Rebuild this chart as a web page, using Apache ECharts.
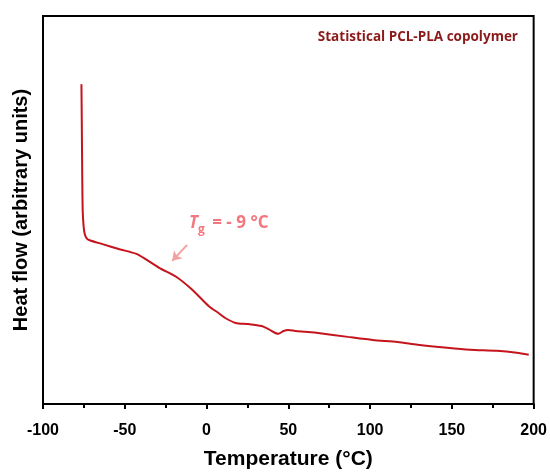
<!DOCTYPE html>
<html>
<head>
<meta charset="utf-8">
<script src="https://cdn.jsdelivr.net/npm/echarts@6/dist/echarts.min.js"></script>
<style>html,body{margin:0;padding:0;background:#fff}#c{width:550px;height:475px}</style>
</head>
<body>
<div id="c"></div>
<script>
const temperature = [-76.5,-76.3,-76.0,-75.7,-75.1,-74.5,-73.3,-71.5,-63.6,-53.2,-42.9,-36.8,-29.0,-18.6,-8.9,1.4,7.5,11.7,17.8,25.7,33.6,37.8,42.1,43.9,47.0,50.0,54.3,60.3,68.2,86.4,101.6,116.8,129.0,147.2,161.2,177.6,189.7,197.0];
const heatFlow = [82.4,73.5,58.3,49.4,45.5,43.8,42.7,42.2,41.2,39.9,38.7,37.2,35.1,32.8,29.5,25.2,23.4,22.1,20.9,20.6,20.1,19.3,18.3,18.1,18.8,19.1,18.8,18.6,18.3,17.3,16.5,16.0,15.3,14.5,14.0,13.7,13.2,12.7];
const xTicks = [-100,-50,0,50,100,150,200];
const arrowFrom = [-11.9, 41.0];
const arrowTo = [-21.0, 36.9];

const chart = echarts.init(document.getElementById('c'));
const f = '"Liberation Sans", Arial, sans-serif';
chart.setOption({
  animation: false,
  grid: {left: 43, right: 11, top: 16, bottom: 66, show: true, borderColor: '#000', borderWidth: 2},
  title: {
    text: 'Statistical PCL-PLA copolymer', right: 27, top: 25,
    textStyle: {color: '#8b1a1a', fontSize: 13.5, fontWeight: 'bold', fontFamily: '"Open Sans", sans-serif'}
  },
  xAxis: {
    type: 'value', min: xTicks[0], max: xTicks[xTicks.length-1], interval: 50,
    name: 'Temperature (°C)', nameLocation: 'middle', nameGap: 45,
    nameTextStyle: {fontSize: 21, fontWeight: 'bold', color: '#000', fontFamily: f},
    axisLine: {onZero: false, lineStyle: {color: '#000', width: 2}},
    axisTick: {show: true, inside: false, length: 5, lineStyle: {width: 2, color: '#000'}},
    minorTick: {show: true, splitNumber: 2, length: 4, lineStyle: {width: 2, color: '#000'}},
    splitLine: {show: false},
    axisLabel: {margin: 19, fontSize: 16, fontWeight: 'bold', color: '#000', fontFamily: f}
  },
  yAxis: {
    type: 'value', min: 0, max: 100,
    name: 'Heat flow (arbitrary units)', nameLocation: 'middle', nameGap: 12,
    nameTextStyle: {fontSize: 20, fontWeight: 'bold', color: '#000', fontFamily: f},
    axisLine: {show: true, onZero: false, lineStyle: {color: '#000', width: 2}},
    axisTick: {show: false}, axisLabel: {show: false}, splitLine: {show: false}
  },
  series: [{
    type: 'line', showSymbol: false, symbol: 'none', smooth: 0.25,
    data: temperature.map((t, i) => [t, heatFlow[i]]),
    lineStyle: {color: '#c4141c', width: 2},
    markLine: {
      silent: true, symbol: ['none', 'arrow'], symbolSize: 9,
      lineStyle: {color: '#f4a0a0', width: 2, type: 'solid'},
      label: {show: false},
      data: [[{coord: arrowFrom}, {coord: arrowTo}]]
    }
  }],
  graphic: [{
    type: 'text', left: 189, top: 215,
    style: {
      text: '{t|T}{s|g}{n| = - 9 °C}',
      rich: {
        t: {fontSize: 17, fontStyle: 'italic', fontWeight: 'bold', fill: '#f4777f', fontFamily: '"Open Sans", sans-serif'},
        s: {fontSize: 12, fontWeight: 'bold', fill: '#f4777f', fontFamily: '"Open Sans", sans-serif', padding: [13, 3, 0, 0]},
        n: {fontSize: 17, fontWeight: 'bold', fill: '#f4777f', fontFamily: '"Open Sans", sans-serif'}
      }
    }
  }]
});
</script>
</body>
</html>
